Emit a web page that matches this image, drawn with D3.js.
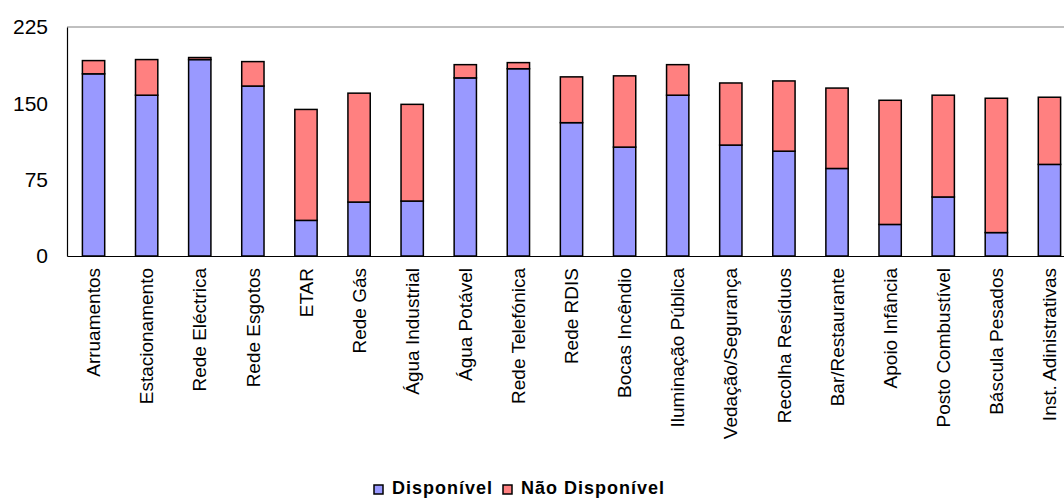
<!DOCTYPE html>
<html lang="pt">
<head>
  <meta charset="UTF-8">
  <title>Infra-estruturas disponíveis</title>
  <style>
    body { margin: 0; background: #fff; }
    svg text { font-family: "Liberation Sans", Arial, sans-serif; fill: #000; }
    .tick-label { font-size: 21px; }
    .cat-label { font-size: 19px; }
    .legend text { font-size: 18px; font-weight: bold; letter-spacing: 1px; }
  </style>
</head>
<body>
  <svg width="1064" height="498"></svg>

  <script src="https://cdnjs.cloudflare.com/ajax/libs/d3/7.8.5/d3.min.js"></script>
  <script>
    const categories = [
      "Arruamentos", "Estacionamento", "Rede Eléctrica", "Rede Esgotos", "ETAR",
      "Rede Gás", "Água Industrial", "Água Potável", "Rede Telefónica", "Rede RDIS",
      "Bocas Incêndio", "Iluminação Pública", "Vedação/Segurança", "Recolha Resíduos",
      "Bar/Restaurante", "Apoio Infância", "Posto Combustível", "Báscula Pesados",
      "Inst. Adinistrativas"
    ];
    const disponivel =    [179, 158, 193, 167, 35, 53, 54, 175, 184, 131, 107, 158, 109, 103, 86, 31, 58, 23, 90];
    const naoDisponivel = [13, 35, 2, 24, 109, 107, 95, 13, 6, 45, 70, 30, 61, 69, 79, 122, 100, 132, 66];
    const seriesNames = ["Disponível", "Não Disponível"];
    const seriesColors = ["#9999ff", "#ff8080"];
    const yTicks = [0, 75, 150, 225];

    const svg = d3.select("svg");
    const plotLeft = 67, plotTop = 27, plotBottom = 256, plotRight = 1076;

    const x = d3.scaleBand()
      .domain(categories)
      .range([plotLeft, plotRight])
      .paddingInner(0.58)
      .paddingOuter(0.29);

    const y = d3.scaleLinear().domain([0, 225]).range([plotBottom, plotTop]);

    const rows = categories.map((c, i) => ({ cat: c, a: disponivel[i], b: naoDisponivel[i] }));
    const stacked = d3.stack().keys(["a", "b"])(rows);

    // top border of plot area
    svg.append("line")
      .attr("x1", plotLeft).attr("x2", plotRight)
      .attr("y1", plotTop).attr("y2", plotTop)
      .attr("stroke", "#808080").attr("stroke-width", 1);

    // bars
    stacked.forEach((layer, k) => {
      svg.append("g")
        .selectAll("rect")
        .data(layer)
        .join("rect")
        .attr("x", d => x(d.data.cat))
        .attr("width", x.bandwidth())
        .attr("y", d => y(d[1]))
        .attr("height", d => y(d[0]) - y(d[1]))
        .attr("fill", seriesColors[k])
        .attr("stroke", "#000")
        .attr("stroke-width", 1.5);
    });

    // axes
    const yAxis = svg.append("g")
      .attr("transform", `translate(${plotLeft},0)`)
      .call(d3.axisLeft(y).tickValues(yTicks).tickSize(0).tickPadding(19));
    yAxis.attr("font-family", null).attr("font-size", null);
    yAxis.select(".domain").attr("stroke", "#000").attr("stroke-width", 1.2);
    yAxis.selectAll("text").attr("class", "tick-label");

    const xAxis = svg.append("g")
      .attr("transform", `translate(0,${plotBottom})`)
      .call(d3.axisBottom(x).tickSize(0).tickSizeOuter(0));
    xAxis.attr("font-family", null).attr("font-size", null);
    xAxis.select(".domain").attr("stroke", "#000").attr("stroke-width", 1.2);
    xAxis.selectAll("text")
      .attr("class", "cat-label")
      .attr("text-anchor", "end")
      .attr("transform", "rotate(-90)")
      .attr("x", -12)
      .attr("y", 0)
      .attr("dy", "0.35em");

    // legend
    const legend = svg.append("g").attr("class", "legend");
    const legendX = [374, 503];
    seriesNames.forEach((name, k) => {
      legend.append("rect")
        .attr("x", legendX[k]).attr("y", 485)
        .attr("width", 9).attr("height", 9)
        .attr("fill", seriesColors[k])
        .attr("stroke", "#000").attr("stroke-width", 1.5);
      legend.append("text")
        .attr("x", legendX[k] + 18).attr("y", 494)
        .text(name);
    });
  </script>
</body>
</html>
